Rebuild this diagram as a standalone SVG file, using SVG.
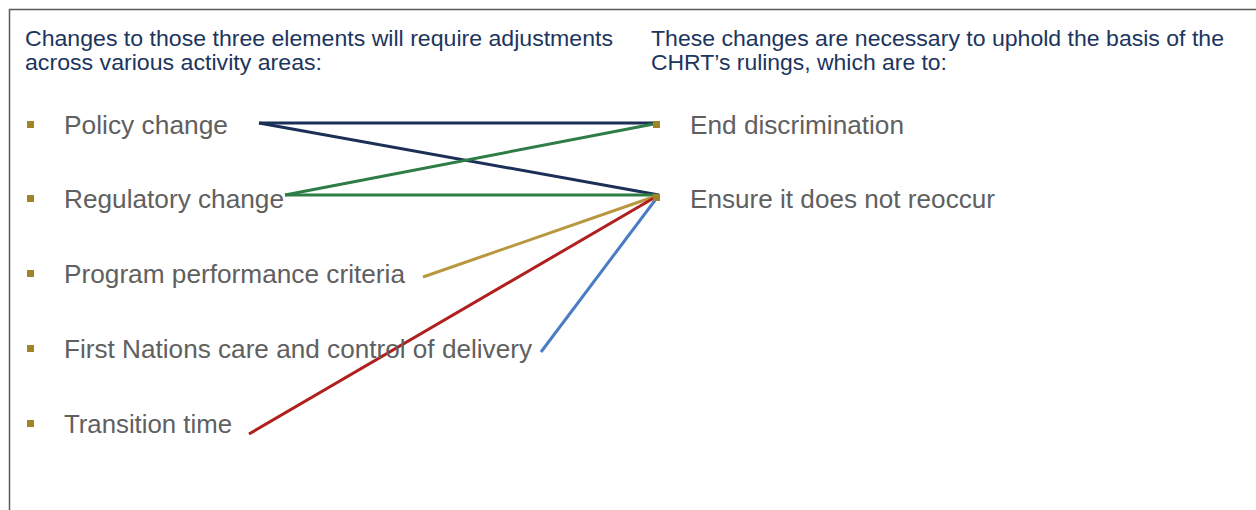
<svg xmlns="http://www.w3.org/2000/svg" width="1256" height="510" viewBox="0 0 1256 510">
  <style>
    .frame { fill: none; stroke: #5a5a5a; stroke-width: 1.5; }
    .head { font-family: "Liberation Sans", Arial, sans-serif; font-size: 21.5px; fill: #1c355e; }
    .item { font-family: "Liberation Sans", Arial, sans-serif; font-size: 25.5px; fill: #606060; }
    .bullet { fill: #a08528; }
    .link { fill: none; stroke-width: 3; stroke-linecap: butt; }
    .navy { stroke: #1b2f57; }
    .green { stroke: #2e7d47; }
    .gold { stroke: #b8973f; }
    .red { stroke: #b0201f; }
    .blue { stroke: #4a7cc4; }
  </style>
  <rect width="1256" height="510" fill="#ffffff"/>
  <!-- open frame: top and left edges -->
  <path class="frame" d="M9.5 510 V9.5 H1256"/>

  <!-- column headings -->
  <text class="head" x="25" y="46" textLength="588" lengthAdjust="spacingAndGlyphs">Changes to those three elements will require adjustments</text>
  <text class="head" x="25" y="70" textLength="297" lengthAdjust="spacingAndGlyphs">across various activity areas:</text>
  <text class="head" x="651" y="46" textLength="573" lengthAdjust="spacingAndGlyphs">These changes are necessary to uphold the basis of the</text>
  <text class="head" x="651" y="70" textLength="296" lengthAdjust="spacingAndGlyphs">CHRT’s rulings, which are to:</text>

  <!-- connectors -->
  <g id="connectors">
    <line class="link navy" x1="259" y1="123" x2="659" y2="123"/>
    <line class="link navy" x1="259" y1="123" x2="659" y2="195"/>
    <line class="link green" x1="285" y1="195" x2="659" y2="123"/>
    <line class="link green" x1="285" y1="195" x2="659" y2="195"/>
    <line class="link gold" x1="423" y1="277" x2="659" y2="195"/>
    <line class="link red" x1="249" y1="434" x2="659" y2="195"/>
    <line class="link blue" x1="541" y1="352" x2="659" y2="195"/>
  </g>

  <!-- activity areas -->
  <g id="policy-change">
    <rect class="bullet" x="27" y="121" width="7" height="7"/>
    <text class="item" x="64" y="134" textLength="164" lengthAdjust="spacingAndGlyphs">Policy change</text>
  </g>
  <g id="regulatory-change">
    <rect class="bullet" x="27" y="195" width="7" height="7"/>
    <text class="item" x="64" y="208" textLength="220" lengthAdjust="spacingAndGlyphs">Regulatory change</text>
  </g>
  <g id="program-performance">
    <rect class="bullet" x="27" y="270" width="7" height="7"/>
    <text class="item" x="64" y="283" textLength="341" lengthAdjust="spacingAndGlyphs">Program performance criteria</text>
  </g>
  <g id="first-nations-control">
    <rect class="bullet" x="27" y="345" width="7" height="7"/>
    <text class="item" x="64" y="358" textLength="468" lengthAdjust="spacingAndGlyphs">First Nations care and control of delivery</text>
  </g>
  <g id="transition-time">
    <rect class="bullet" x="27" y="420" width="7" height="7"/>
    <text class="item" x="64" y="433" textLength="168" lengthAdjust="spacingAndGlyphs">Transition time</text>
  </g>

  <!-- rulings -->
  <g id="end-discrimination">
    <rect class="bullet" x="653" y="121" width="7" height="7"/>
    <text class="item" x="690" y="134" textLength="214" lengthAdjust="spacingAndGlyphs">End discrimination</text>
  </g>
  <g id="ensure-no-reoccurrence">
    <rect class="bullet" x="653" y="194" width="7" height="7"/>
    <text class="item" x="690" y="208" textLength="305" lengthAdjust="spacingAndGlyphs">Ensure it does not reoccur</text>
  </g>
</svg>
